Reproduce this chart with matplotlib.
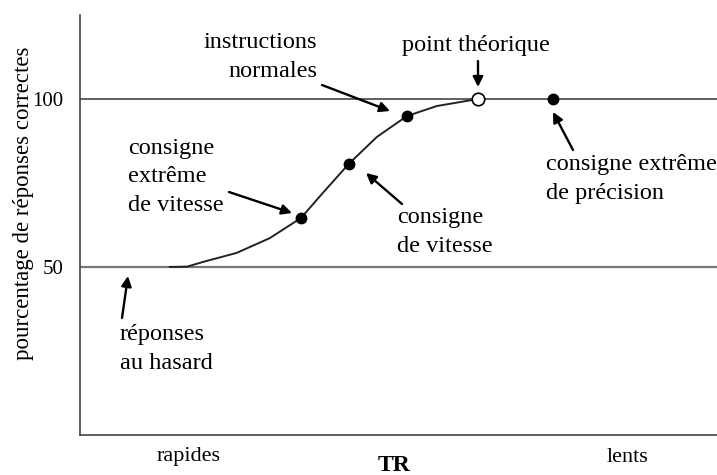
import matplotlib
matplotlib.use("Agg")
import matplotlib.pyplot as plt

plt.rcParams['font.family'] = ['Liberation Serif', 'DejaVu Serif']

# Data (x: relative RT scale 0-100, y: % correct)
curve_x = [14.1, 16.8, 19.3, 24.6, 29.8, 34.7, 38.1, 42.2, 46.6, 51.3, 56.0, 59.7, 62.5]
curve_y = [50.0, 50.1, 51.5, 54.2, 58.6, 64.6, 72.0, 80.7, 88.7, 94.9, 97.9, 99.1, 100.0]
filled_x = [34.7, 42.2, 51.3, 74.3]
filled_y = [64.6, 80.7, 94.9, 100.0]
open_x = [62.5]
open_y = [100.0]
ytick_vals = [50, 100]
ytick_labels = ['50', '100']
xtick_vals = [17.0, 86.0]
xtick_labels = ['rapides', 'lents']

W, H = 717, 475
fig = plt.figure(figsize=(W / 100, H / 100), dpi=100)
ax = fig.add_axes([80 / W, 1 - 435 / H, 637 / W, 420 / H])
ax.set_xlim(0, 100)
ax.set_ylim(0, 125)

ink = '#222222'
ax.axhline(100, color='#444444', lw=1.2)
ax.axhline(50, color='#777777', lw=1.6)
ax.plot(curve_x, curve_y, color=ink, lw=1.4)
ax.plot(filled_x, filled_y, 'o', color='black', ms=7.5)
ax.plot(open_x, open_y, 'o', mfc='white', mec='black', mew=1.2, ms=9)

for s in ['top', 'right']:
    ax.spines[s].set_visible(False)
for s in ['left', 'bottom']:
    ax.spines[s].set_color('#444444')
    ax.spines[s].set_linewidth(1.2)

fs = 17.5
ls = 1.45
ax.set_yticks(ytick_vals, ytick_labels, fontsize=15)
ax.set_xticks(xtick_vals, xtick_labels, fontsize=16)
ax.tick_params(axis='y', length=0, pad=12)
ax.tick_params(axis='x', length=0, pad=9)
ax.set_ylabel('pourcentage de réponses correctes', fontsize=16.5)
ax.yaxis.set_label_coords(-(80 - 34) / 637, (435 - 203) / 420)
ax.text((394 - 80) / 637, -(455 - 435) / 420, 'TR', transform=ax.transAxes, ha='center', va='top',
        fontsize=17, fontweight='bold')

def px(x, y):
    # pixel -> data
    return ((x - 80) / 6.37, (435 - y) / 3.36)

arrow = dict(arrowstyle='-|>', color='black', lw=1.7, mutation_scale=15, shrinkA=0, shrinkB=0)

ax.text(*px(317, 57), 'instructions\nnormales', ha='right', va='center', fontsize=fs, linespacing=ls)
ax.annotate('', xy=px(390, 111), xytext=px(322, 85), arrowprops=arrow)

ax.text(*px(476, 45), 'point théorique', ha='center', va='center', fontsize=fs)
ax.annotate('', xy=px(478, 87), xytext=px(478, 61), arrowprops=arrow)

ax.text(*px(546, 179), 'consigne extrême\nde précision', ha='left', va='center', fontsize=fs, linespacing=ls)
ax.annotate('', xy=px(553, 112), xytext=px(573, 150), arrowprops=arrow)

ax.text(*px(128, 177), 'consigne\nextrême\nde vitesse', ha='left', va='center', fontsize=fs, linespacing=ls)
ax.annotate('', xy=px(292, 213), xytext=px(229, 192), arrowprops=arrow)

ax.text(*px(397, 232), 'consigne\nde vitesse', ha='left', va='center', fontsize=fs, linespacing=ls)
ax.annotate('', xy=px(366, 173), xytext=px(402, 204), arrowprops=arrow)

ax.text(*px(120, 349), 'réponses\nau hasard', ha='left', va='center', fontsize=fs, linespacing=ls)
ax.annotate('', xy=px(128, 276), xytext=px(122, 318), arrowprops=arrow)

fig.savefig('out.png', dpi=100)
